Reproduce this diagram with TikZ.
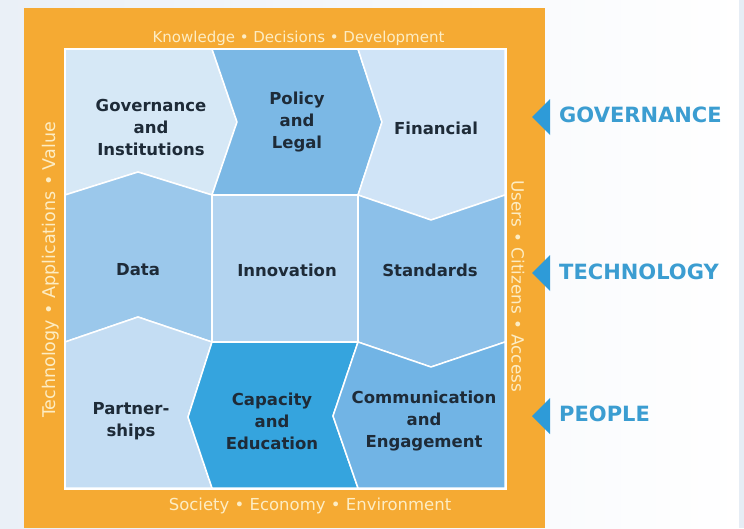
\documentclass[tikz,border=0pt]{standalone}
\usepackage{fontspec}
\setmainfont{DejaVu Sans}
\definecolor{bgL}{HTML}{EAF0F7}
\definecolor{edgeC}{HTML}{E6EDF5}
\definecolor{orangeF}{HTML}{F5AA33}
\definecolor{creamC}{HTML}{FDEDC4}
\definecolor{labelC}{HTML}{1E2B38}
\definecolor{sideC}{HTML}{3B9DD1}
\definecolor{triC}{HTML}{2E9BD8}
\definecolor{cGov}{HTML}{D6E8F6}
\definecolor{cPol}{HTML}{7BB8E5}
\definecolor{cFin}{HTML}{D0E4F7}
\definecolor{cDat}{HTML}{9BC8EB}
\definecolor{cInn}{HTML}{B3D4F0}
\definecolor{cSta}{HTML}{8CC0E9}
\definecolor{cPar}{HTML}{C4DDF3}
\definecolor{cCap}{HTML}{35A4DE}
\definecolor{cCom}{HTML}{71B4E5}
\begin{document}
\begin{tikzpicture}[x=1pt,y=-1pt,
  region/.style={draw=white,line width=1.5pt,line join=round},
  lbl/.style={font=\fontsize{16.5}{22}\selectfont\bfseries,text=labelC,align=center,inner sep=0pt},
  frametxt/.style={text=creamC,inner sep=0pt},
  tri/.style={fill=triC},
  side/.style={font=\fontsize{21}{24}\selectfont\bfseries,text=sideC,anchor=west,inner sep=0pt}]
\useasboundingbox (0,0) rectangle (744,528);
\shade[left color=bgL,right color=white] (0,0) rectangle (744,528);
\fill[edgeC] (739,0) rectangle (744,528);
\fill[orangeF] (24,8) rectangle (545,528);
\fill[white] (63.5,47.5) rectangle (506.5,489.5);
% regions
\path[region,fill=cGov] (65,49) -- (212,49) -- (237,122) -- (212,195) -- (138,172) -- (65,195) -- cycle;
\path[region,fill=cPol] (212,49) -- (358,49) -- (382,122) -- (358,195) -- (212,195) -- (237,122) -- cycle;
\path[region,fill=cFin] (358,49) -- (505,49) -- (505,195) -- (431,220) -- (358,195) -- (382,122) -- cycle;
\path[region,fill=cDat] (65,195) -- (138,172) -- (212,195) -- (212,342) -- (138,317) -- (65,342) -- cycle;
\path[region,fill=cInn] (212,195) rectangle (358,342);
\path[region,fill=cSta] (358,195) -- (431,220) -- (505,195) -- (505,342) -- (431,367) -- (358,342) -- cycle;
\path[region,fill=cPar] (65,342) -- (138,317) -- (212,342) -- (188,417) -- (212,488) -- (65,488) -- cycle;
\path[region,fill=cCap] (212,342) -- (358,342) -- (333,416) -- (358,488) -- (212,488) -- (188,417) -- cycle;
\path[region,fill=cCom] (358,342) -- (431,367) -- (505,342) -- (505,488) -- (358,488) -- (333,416) -- cycle;
% labels
\node[lbl] (gov) at (151,127) {Governance\\and\\Institutions};
\node[lbl] (pol) at (297,122) {Policy\\and\\Legal};
\node[lbl] (fin) at (436,128) {Financial};
\node[lbl] (dat) at (138,270) {Data};
\node[lbl] (inn) at (287,270) {Innovation};
\node[lbl] (sta) at (430,270) {Standards};
\node[lbl] (par) at (131,421) {Partner-\\ships};
\node[lbl] (cap) at (272,421) {Capacity\\and\\Education};
\node[lbl] (com) at (424,421) {Communication\\and\\Engagement};
% frame texts
\node[frametxt,font=\fontsize{15}{18}\selectfont,anchor=base] (top) at (298.5,42) {Knowledge • Decisions • Development};
\node[frametxt,font=\fontsize{16.5}{18}\selectfont,anchor=base] (bot) at (310,510) {Society • Economy • Environment};
\node[frametxt,font=\fontsize{17.5}{18}\selectfont,rotate=90] (lft) at (51,270) {Technology • Applications • Value};
\node[frametxt,font=\fontsize{16.8}{18}\selectfont,rotate=-90] (rgt) at (518,286) {Users • Citizens • Access};
% side markers
\path[tri] (532,117) -- (550,99) -- (550,135) -- cycle;
\path[tri] (532,273) -- (550,255) -- (550,291) -- cycle;
\path[tri] (532,416) -- (550,398) -- (550,434) -- cycle;
\node[side] (sgov) at (559,115) {GOVERNANCE};
\node[side] (stec) at (559,272) {TECHNOLOGY};
\node[side] (speo) at (559,414) {PEOPLE};
\end{tikzpicture}
\end{document}
